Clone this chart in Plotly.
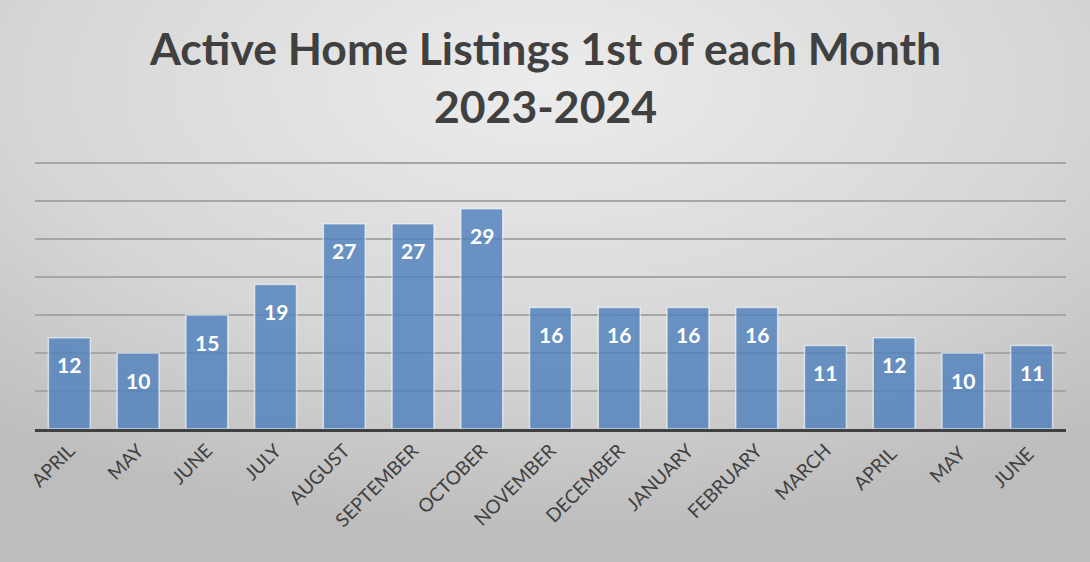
import plotly.graph_objects as go
import urllib.parse

months = ["APRIL", "MAY", "JUNE", "JULY", "AUGUST", "SEPTEMBER", "OCTOBER", "NOVEMBER",
          "DECEMBER", "JANUARY", "FEBRUARY", "MARCH", "APRIL ", "MAY ", "JUNE "]
listings = [12, 10, 15, 19, 27, 27, 29, 16, 16, 16, 16, 11, 12, 10, 11]
title_lines = ["Active Home Listings 1st of each Month", "2023-2024"]

W, H = 1090, 562
svg = (
    "<svg xmlns='http://www.w3.org/2000/svg' width='1090' height='562'>"
    "<defs><radialGradient id='g' cx='50%' cy='15%' r='80%'>"
    "<stop offset='0%' stop-color='#ececec'/>"
    "<stop offset='60%' stop-color='#d6d6d6'/>"
    "<stop offset='100%' stop-color='#bdbdbd'/>"
    "</radialGradient></defs>"
    "<rect width='1090' height='562' fill='url(#g)'/></svg>"
)
src = "data:image/svg+xml;charset=utf-8," + urllib.parse.quote(svg)

TOP = 160
PH = 429 - TOP  # plot height in px
fig = go.Figure()
fig.add_trace(go.Bar(
    x=months, y=listings,
    marker=dict(color="rgba(79,129,189,0.82)", line=dict(color="rgba(255,255,255,0.6)", width=1.5)),
    hoverinfo="x+y",
))

annots = [dict(x=m, y=v, xref="x", yref="y", text="<b>%d</b>" % v, showarrow=False,
               yanchor="middle", yshift=-27,
               font=dict(family="Lato", size=21, color="white"))
          for m, v in zip(months, listings)]
annots.append(dict(text="<b>" + "<br>".join(title_lines) + "</b>", xref="paper", yref="paper",
                   x=(545 - 35) / 1031, y=1 + (TOP - 19) / PH, xanchor="center", yanchor="top",
                   showarrow=False, align="center",
                   font=dict(family="Lato", size=44.5, color="#404040")))

fig.update_layout(
    width=W, height=H, autosize=False,
    margin=dict(l=35, r=24, t=TOP, b=133),
    paper_bgcolor="rgba(0,0,0,0)", plot_bgcolor="rgba(0,0,0,0)",
    bargap=0.39,
    showlegend=False,
    images=[dict(source=src, xref="paper", yref="paper", x=-35/1031, y=1 + TOP/PH,
                 sizex=W/1031, sizey=H/PH, xanchor="left", yanchor="top",
                 sizing="stretch", layer="below")],
    annotations=annots,
)
fig.update_xaxes(tickangle=-45, tickfont=dict(family="Lato", size=19, color="#404040"),
                 showline=True, linecolor="#404040", linewidth=3, ticks="", showgrid=False)
fig.update_yaxes(range=[0, 35.4], tickvals=[5, 10, 15, 20, 25, 30, 35], showticklabels=False,
                 showgrid=True, gridcolor="#a6a6a6", gridwidth=1.5, zeroline=False, showline=False)

fig.write_html("out.html")
